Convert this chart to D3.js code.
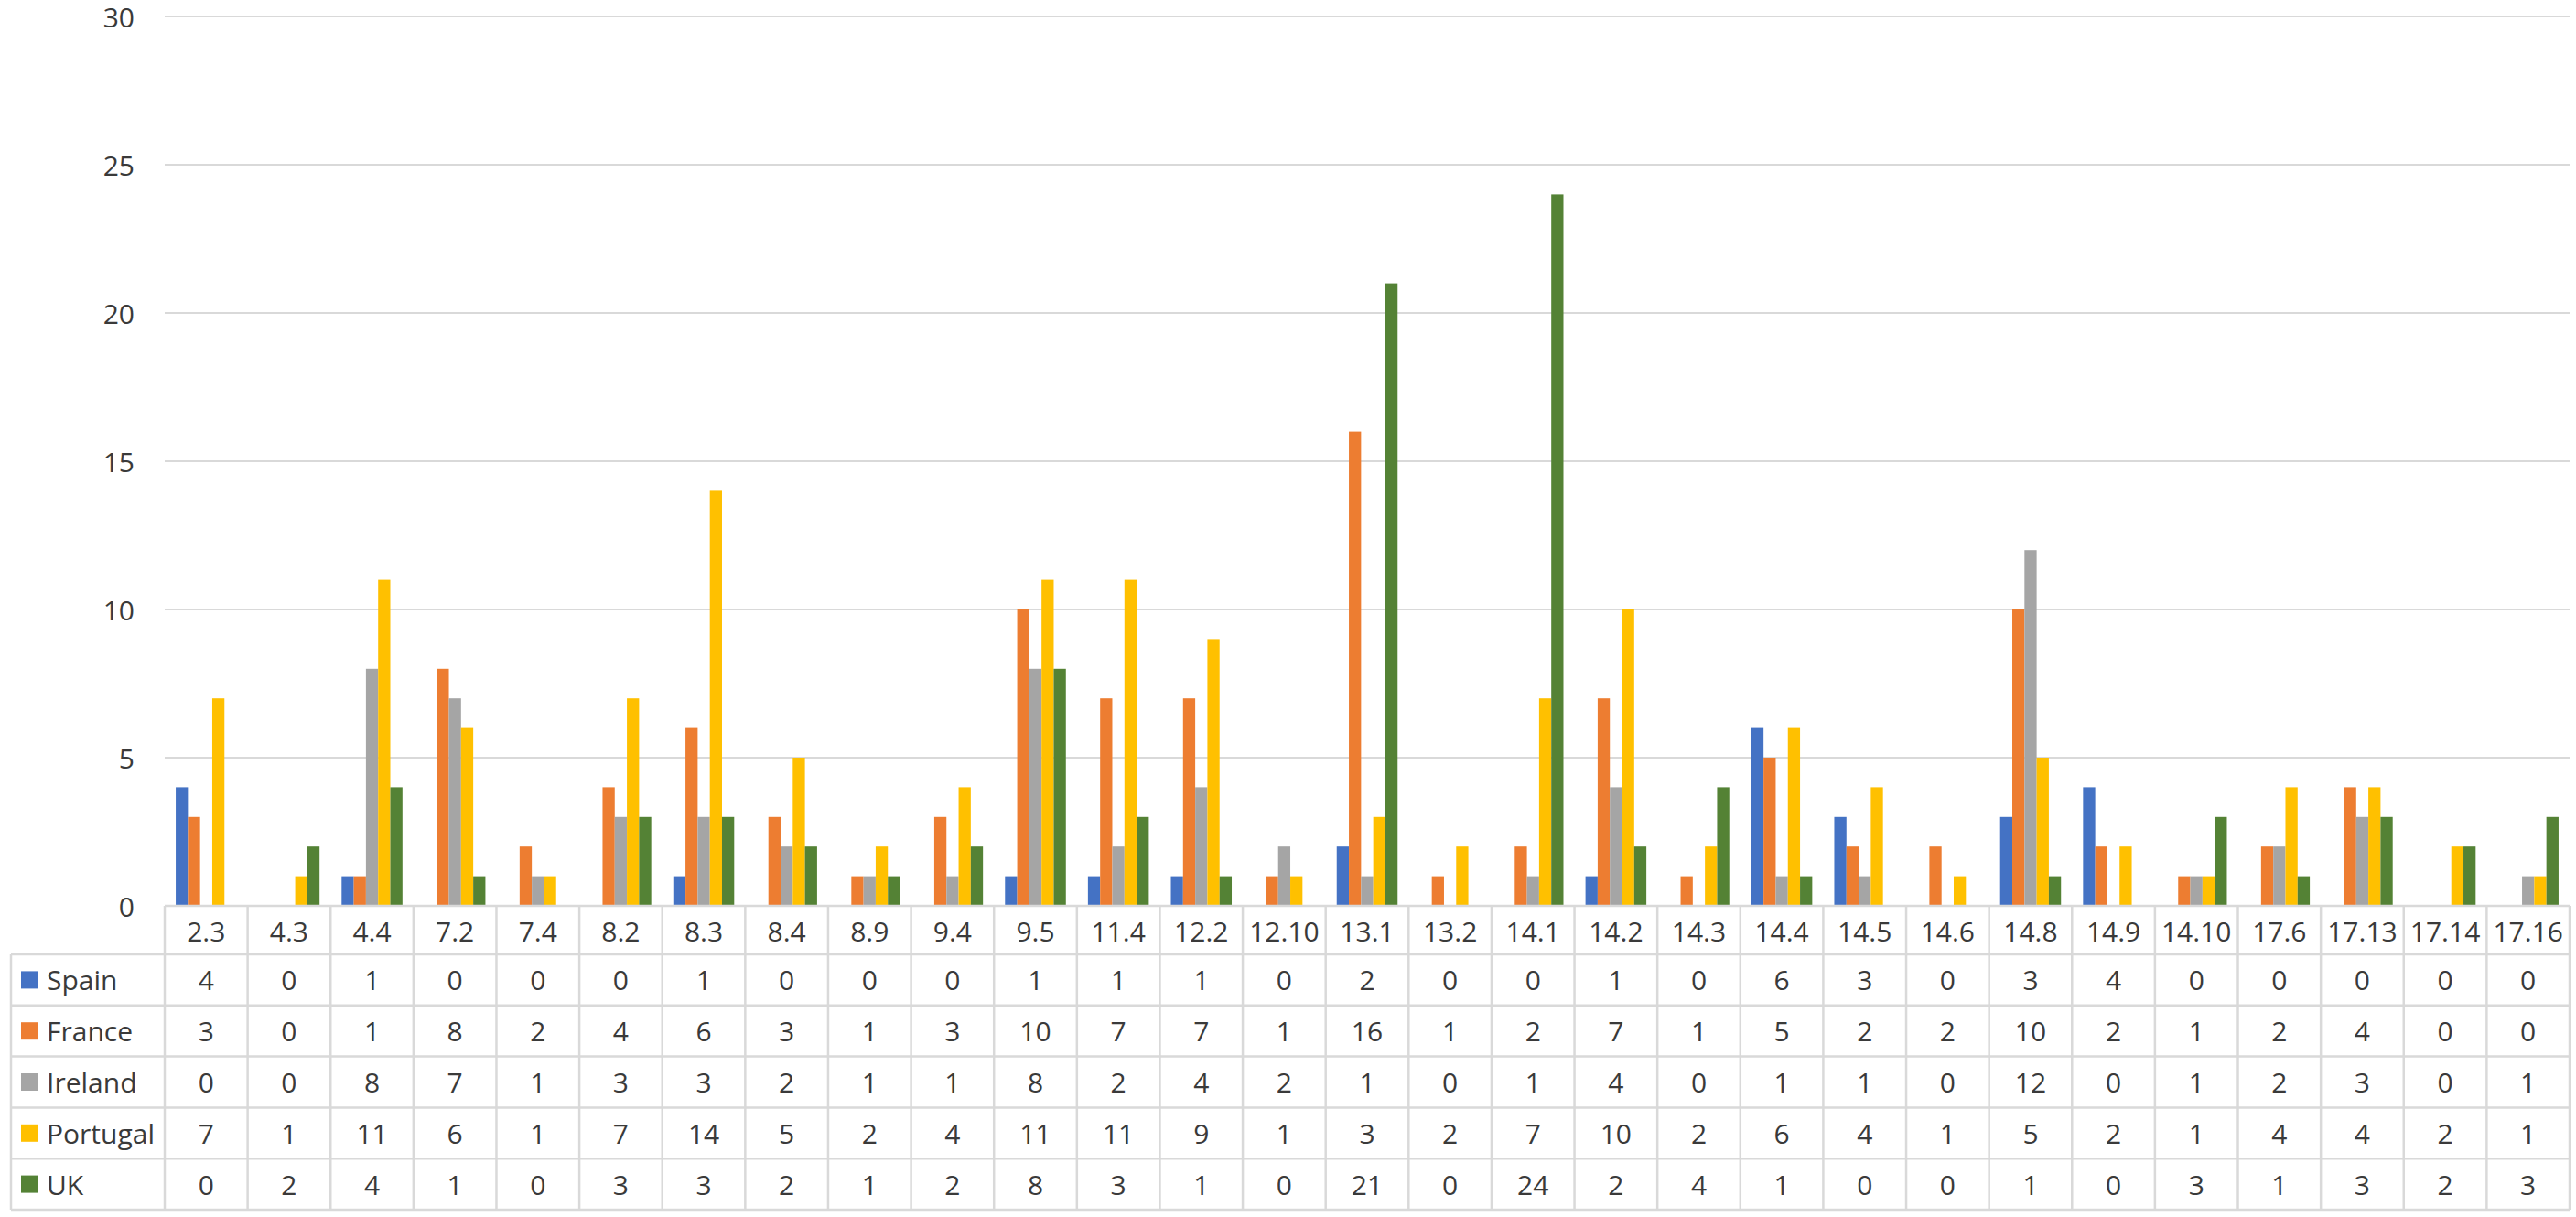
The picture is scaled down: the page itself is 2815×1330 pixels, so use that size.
<!DOCTYPE html>
<html>
<head>
<meta charset="utf-8">
<script src="https://cdn.jsdelivr.net/npm/d3@7"></script>
<style>
  html, body { margin: 0; padding: 0; background: #fff; }
  svg { display: block; }
  text { font-family: "Open Sans", "Noto Sans", sans-serif; fill: #3a3a3a; }
</style>
</head>
<body>
<svg id="chart" width="2815" height="1330"></svg>
<script>
const categories = ["2.3","4.3","4.4","7.2","7.4","8.2","8.3","8.4","8.9","9.4","9.5","11.4","12.2","12.10","13.1","13.2","14.1","14.2","14.3","14.4","14.5","14.6","14.8","14.9","14.10","17.6","17.13","17.14","17.16"];
const seriesNames = ["Spain","France","Ireland","Portugal","UK"];
const spain    = [4,0,1,0,0,0,1,0,0,0,1,1,1,0,2,0,0,1,0,6,3,0,3,4,0,0,0,0,0];
const france   = [3,0,1,8,2,4,6,3,1,3,10,7,7,1,16,1,2,7,1,5,2,2,10,2,1,2,4,0,0];
const ireland  = [0,0,8,7,1,3,3,2,1,1,8,2,4,2,1,0,1,4,0,1,1,0,12,0,1,2,3,0,1];
const portugal = [7,1,11,6,1,7,14,5,2,4,11,11,9,1,3,2,7,10,2,6,4,1,5,2,1,4,4,2,1];
const uk       = [0,2,4,1,0,3,3,2,1,2,8,3,1,0,21,0,24,2,4,1,0,0,1,0,3,1,3,2,3];
const yTicks = [0,5,10,15,20,25,30];
const colors = ["#4472C4","#ED7D31","#A5A5A5","#FFC000","#548235"];

const seriesValues = [spain, france, ireland, portugal, uk];

const svg = d3.select("#chart");
const plotLeft = 180, plotRight = 2808, plotTop = 18, plotBottom = 990;
const headerBottom = 1043, tableBottom = 1322, legendLeft = 12;
const gridColor = "#d9d9d9";

const x = d3.scaleBand().domain(categories).range([plotLeft, plotRight]).paddingInner(0).paddingOuter(0);
const groupInset = 0.133;
const xs = d3.scaleBand().domain(seriesNames)
  .range([x.bandwidth()*groupInset, x.bandwidth()*(1-groupInset)]).padding(0);
const y = d3.scaleLinear().domain([0,30]).range([plotBottom, plotTop]);

// gridlines
svg.append("g").selectAll("line").data(yTicks.filter(d => d > 0)).join("line")
  .attr("x1", plotLeft).attr("x2", plotRight)
  .attr("y1", d => y(d)).attr("y2", d => y(d))
  .attr("stroke", gridColor).attr("stroke-width", 2);

// y labels
svg.append("g").selectAll("text").data(yTicks).join("text")
  .attr("x", 147).attr("y", d => y(d))
  .attr("text-anchor", "end").attr("dominant-baseline", "central")
  .attr("font-size", 30)
  .text(d => d);

// bars
const groups = svg.append("g").selectAll("g").data(categories).join("g")
  .attr("transform", c => `translate(${x(c)},0)`);
groups.selectAll("rect")
  .data((c, i) => seriesNames.map((s, k) => ({s, k, v: seriesValues[k][i]})))
  .join("rect")
  .attr("x", d => xs(d.s))
  .attr("width", xs.bandwidth())
  .attr("y", d => y(d.v))
  .attr("height", d => y(0) - y(d.v))
  .attr("fill", d => colors[d.k]);

// table
const tbl = svg.append("g");
const rowH = (tableBottom - headerBottom) / seriesNames.length;
tbl.append("line").attr("x1", plotLeft).attr("x2", plotRight).attr("y1", plotBottom).attr("y2", plotBottom)
  .attr("stroke", gridColor).attr("stroke-width", 2.5);
d3.range(seriesNames.length + 1).forEach(r => {
  const yy = headerBottom + r * rowH;
  tbl.append("line").attr("x1", legendLeft).attr("x2", plotRight).attr("y1", yy).attr("y2", yy)
    .attr("stroke", gridColor).attr("stroke-width", 2.5);
});
const bounds = categories.map(c => x(c)).concat([plotRight]);
tbl.selectAll("line.v").data(bounds).join("line").attr("class","v")
  .attr("x1", d => d).attr("x2", d => d).attr("y1", plotBottom).attr("y2", tableBottom)
  .attr("stroke", gridColor).attr("stroke-width", 2.5);
tbl.append("line").attr("x1", legendLeft).attr("x2", legendLeft).attr("y1", headerBottom).attr("y2", tableBottom)
  .attr("stroke", gridColor).attr("stroke-width", 2.5);

tbl.selectAll("text.h").data(categories).join("text").attr("class","h")
  .attr("x", c => x(c) + x.bandwidth()/2).attr("y", (plotBottom + headerBottom)/2 + 1)
  .attr("text-anchor","middle").attr("dominant-baseline","central")
  .attr("font-size", 30).text(c => c);

seriesNames.forEach((s, k) => {
  const cy = headerBottom + k * rowH + rowH/2;
  tbl.append("rect").attr("x", 23).attr("y", cy - 9.5).attr("width", 19).attr("height", 19).attr("fill", colors[k]);
  tbl.append("text").attr("x", 51).attr("y", cy).attr("dominant-baseline","central")
    .attr("font-size", 30).text(s);
  tbl.append("g").selectAll("text").data(seriesValues[k]).join("text")
    .attr("x", (v, i) => x(categories[i]) + x.bandwidth()/2).attr("y", cy)
    .attr("text-anchor","middle").attr("dominant-baseline","central")
    .attr("font-size", 30).text(v => v);
});
</script>
</body>
</html>
